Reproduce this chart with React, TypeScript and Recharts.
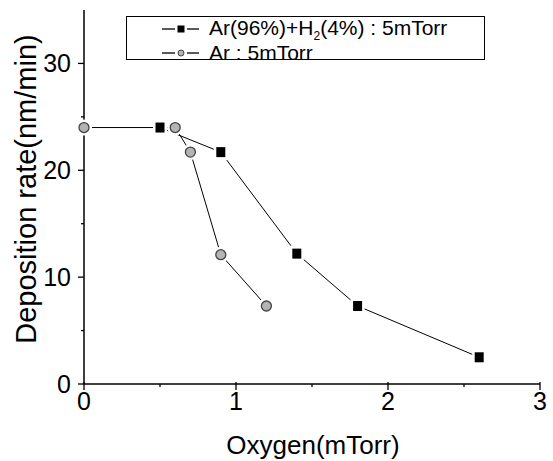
import React from "react"
import { LineChart, Line, XAxis, YAxis } from "recharts"

// Ar(96%)+H2(4%) : 5mTorr
const oxygenH2 = [0.5, 0.9, 1.4, 1.8, 2.6]
const rateH2 = [24, 21.7, 12.2, 7.3, 2.5]

// Ar : 5mTorr
const oxygenAr = [0, 0.6, 0.7, 0.9, 1.2]
const rateAr = [24, 24, 21.7, 12.1, 7.3]

const xTicks = [0, 0.5, 1, 1.5, 2, 2.5, 3]
const yTicks = [0, 5, 10, 15, 20, 25, 30]

const FONT = "'Liberation Sans', Arial, sans-serif"

const h2Data = oxygenH2.map((o, i) => ({ oxygen: o, rate: rateH2[i] }))
const arData = oxygenAr.map((o, i) => ({ oxygen: o, rate: rateAr[i] }))

const XTick = (props: any) => {
  const { x, y, payload } = props
  const major = Number.isInteger(payload.value)
  return (
    <g>
      <line x1={x} x2={x} y1={y - (major ? 2 : 0)} y2={y + (major ? 6 : 3)} stroke="#000" strokeWidth={1.3} />
      {major && (
        <text x={x} y={y + 26} textAnchor="middle" fontSize={25} fontFamily={FONT} fill="#000">
          {payload.value}
        </text>
      )}
    </g>
  )
}

const YTick = (props: any) => {
  const { x, y, payload } = props
  const major = payload.value % 10 === 0
  return (
    <g>
      <line x1={x - (major ? 6 : 3)} x2={x} y1={y} y2={y} stroke="#000" strokeWidth={1.3} />
      {major && (
        <text x={x - 13} y={y + 9} textAnchor="end" fontSize={25} fontFamily={FONT} fill="#000">
          {payload.value}
        </text>
      )}
    </g>
  )
}

const SquareDot = (props: any) => {
  const { cx, cy } = props
  if (cx == null || cy == null) return null
  return (
    <g>
      <rect x={cx - 7} y={cy - 8} width={14} height={16} fill="#fff" />
      <rect x={cx - 4.5} y={cy - 5} width={9} height={10} fill="#000" />
    </g>
  )
}

const CircleDot = (props: any) => {
  const { cx, cy } = props
  if (cx == null || cy == null) return null
  return (
    <g>
      <circle cx={cx} cy={cy} r={8} fill="#fff" />
      <circle cx={cx} cy={cy} r={5} fill="#b4b4b4" stroke="#444" strokeWidth={1.3} />
    </g>
  )
}

const LegendRow = ({ top, square, children }: { top: number; square: boolean; children: React.ReactNode }) => (
  <div style={{ position: "absolute", left: 0, top, height: 24, display: "flex", alignItems: "center" }}>
    <svg width={82} height={24} style={{ display: "block", flex: "none" }}>
      <line x1={35} x2={48} y1={12} y2={12} stroke="#000" strokeWidth={1.3} />
      <line x1={60} x2={72} y1={12} y2={12} stroke="#000" strokeWidth={1.3} />
      {square ? (
        <rect x={50.5} y={8.5} width={7} height={7} fill="#000" />
      ) : (
        <circle cx={54} cy={12} r={3} fill="#b4b4b4" stroke="#444" strokeWidth={1} />
      )}
    </svg>
    <span style={{ fontFamily: FONT, fontSize: 21, color: "#000", whiteSpace: "nowrap" }}>{children}</span>
  </div>
)

export default function App() {
  return (
    <div style={{ position: "relative", width: 553, height: 461, background: "#fff" }}>
      <style>{`body{margin:0}`}</style>
      <LineChart width={553} height={461} margin={{ top: 10, right: 13, left: 30, bottom: 37 }}>
        <XAxis
          dataKey="oxygen"
          type="number"
          domain={[0, 3]}
          ticks={xTicks}
          interval={0}
          tickSize={0}
          tickMargin={0}
          tickLine={false}
          tick={<XTick />}
          height={40}
          axisLine={{ stroke: "#000", strokeWidth: 1.5 }}
        />
        <XAxis
          xAxisId="top"
          orientation="top"
          type="number"
          domain={[0, 3]}
          height={0}
          tick={false}
          tickLine={false}
          axisLine={{ stroke: "#000", strokeWidth: 1.5 }}
        />
        <YAxis
          type="number"
          domain={[0, 35]}
          ticks={yTicks}
          interval={0}
          tickSize={0}
          tickMargin={0}
          tickLine={false}
          tick={<YTick />}
          width={54}
          axisLine={{ stroke: "#000", strokeWidth: 1.5 }}
        />
        <YAxis
          yAxisId="right"
          orientation="right"
          type="number"
          domain={[0, 35]}
          width={0}
          tick={false}
          tickLine={false}
          axisLine={{ stroke: "#000", strokeWidth: 1.5 }}
        />
        <Line
          data={arData}
          dataKey="rate"
          type="linear"
          stroke="#000"
          strokeWidth={1}
          dot={<CircleDot />}
          activeDot={false}
          isAnimationActive={false}
        />
        <Line
          data={h2Data}
          dataKey="rate"
          type="linear"
          stroke="#000"
          strokeWidth={1}
          dot={<SquareDot />}
          activeDot={false}
          isAnimationActive={false}
        />
      </LineChart>
      <svg width={553} height={461} style={{ position: "absolute", left: 0, top: 0, pointerEvents: "none" }}>
        <text x={313} y={454} textAnchor="middle" fontSize={26} fontFamily={FONT} fill="#000">
          Oxygen(mTorr)
        </text>
        <text
          x={36}
          y={189}
          transform="rotate(-90 36 189)"
          textAnchor="middle"
          fontSize={29}
          fontFamily={FONT}
          fill="#000"
        >
          Deposition rate(nm/min)
        </text>
      </svg>
      <div
        style={{
          position: "absolute",
          left: 126,
          top: 16,
          width: 359,
          height: 44,
          border: "1.5px solid #000",
          boxSizing: "border-box",
          background: "#fff",
        }}
      >
        <LegendRow top={0} square>
          Ar(96%)+H<sub style={{ fontSize: 12, verticalAlign: "-5px" }}>2</sub>(4%) : 5mTorr
        </LegendRow>
        <LegendRow top={24} square={false}>
          Ar : 5mTorr
        </LegendRow>
      </div>
    </div>
  )
}
